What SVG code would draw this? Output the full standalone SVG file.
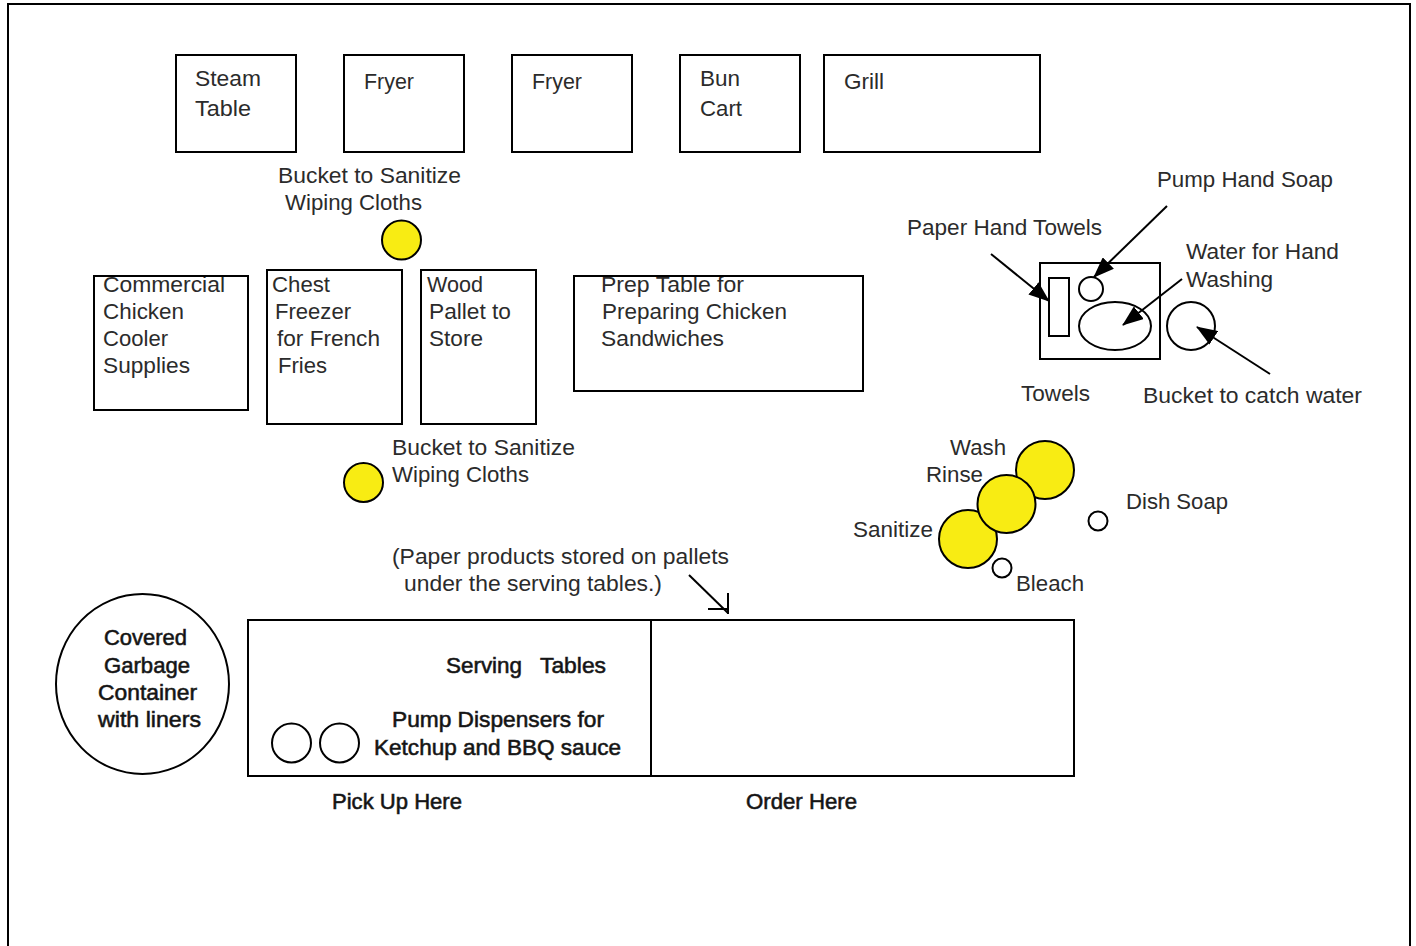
<svg xmlns="http://www.w3.org/2000/svg" width="1416" height="946" viewBox="0 0 1416 946">
<style>
text{font-family:"Liberation Sans",Arial,sans-serif;font-size:22.500px;fill:#2b2b2b}
.b{stroke:#222;stroke-width:.6px;fill:#111}
.s{fill:#fff;stroke:#000;stroke-width:2}
.y{fill:#f8ec13;stroke:#000;stroke-width:2}
.c line{stroke:#000;stroke-width:2}
</style>
<defs>
<marker id="a" markerUnits="userSpaceOnUse" markerWidth="22" markerHeight="16" refX="20" refY="8" orient="auto"><path d="M0 0L21 8L0 16z" fill="#000"/></marker>
<clipPath id="c1"><rect x="94" y="276" width="154" height="134"/></clipPath>
<clipPath id="c2"><rect x="574" y="276" width="289" height="115"/></clipPath>
</defs>
<rect width="1416" height="946" fill="#fff"/>
<path d="M8 946V4H1410V946" fill="none" stroke="#000" stroke-width="2"/>
<g id="steam"><rect class="s" x="176" y="55" width="120" height="97"/><text x="195" y="86" textLength="66" lengthAdjust="spacingAndGlyphs">Steam</text><text x="195" y="116" textLength="56" lengthAdjust="spacingAndGlyphs">Table</text></g>
<g id="fryer1"><rect class="s" x="344" y="55" width="120" height="97"/><text x="364" y="89" textLength="50" lengthAdjust="spacingAndGlyphs">Fryer</text></g>
<g id="fryer2"><rect class="s" x="512" y="55" width="120" height="97"/><text x="532" y="89" textLength="50" lengthAdjust="spacingAndGlyphs">Fryer</text></g>
<g id="bun"><rect class="s" x="680" y="55" width="120" height="97"/><text x="700" y="86" textLength="40" lengthAdjust="spacingAndGlyphs">Bun</text><text x="700" y="116" textLength="42" lengthAdjust="spacingAndGlyphs">Cart</text></g>
<g id="grill"><rect class="s" x="824" y="55" width="216" height="97"/><text x="844" y="89" textLength="40" lengthAdjust="spacingAndGlyphs">Grill</text></g>
<g id="bucket1"><text x="278" y="183" textLength="183" lengthAdjust="spacingAndGlyphs">Bucket to Sanitize</text><text x="285" y="210" textLength="137" lengthAdjust="spacingAndGlyphs">Wiping Cloths</text><circle class="y" cx="401.500" cy="240" r="19.500"/></g>
<g id="cooler"><rect class="s" x="94" y="276" width="154" height="134"/><g clip-path="url(#c1)"><text x="103" y="292" textLength="122" lengthAdjust="spacingAndGlyphs">Commercial</text></g><text x="103" y="319" textLength="81" lengthAdjust="spacingAndGlyphs">Chicken</text><text x="103" y="346" textLength="65" lengthAdjust="spacingAndGlyphs">Cooler</text><text x="103" y="373" textLength="87" lengthAdjust="spacingAndGlyphs">Supplies</text><path d="M94 276H248" stroke="#000" stroke-width="2"/></g>
<g id="freezer"><rect class="s" x="267" y="270" width="135" height="154"/><text x="272" y="292" textLength="58" lengthAdjust="spacingAndGlyphs">Chest</text><text x="275" y="319" textLength="76" lengthAdjust="spacingAndGlyphs">Freezer</text><text x="277" y="346" textLength="103" lengthAdjust="spacingAndGlyphs">for French</text><text x="278" y="373" textLength="49" lengthAdjust="spacingAndGlyphs">Fries</text></g>
<g id="pallet"><rect class="s" x="421" y="270" width="115" height="154"/><text x="427" y="292" textLength="56" lengthAdjust="spacingAndGlyphs">Wood</text><text x="429" y="319" textLength="82" lengthAdjust="spacingAndGlyphs">Pallet to</text><text x="429" y="346" textLength="54" lengthAdjust="spacingAndGlyphs">Store</text></g>
<g id="prep"><rect class="s" x="574" y="276" width="289" height="115"/><g clip-path="url(#c2)"><text x="601" y="292" textLength="143" lengthAdjust="spacingAndGlyphs">Prep Table for</text></g><text x="602" y="319" textLength="185" lengthAdjust="spacingAndGlyphs">Preparing Chicken</text><text x="601" y="346" textLength="123" lengthAdjust="spacingAndGlyphs">Sandwiches</text><path d="M574 276H863" stroke="#000" stroke-width="2"/></g>
<g id="handwash"><rect class="s" x="1040" y="263" width="120" height="96"/><rect class="s" x="1049" y="278" width="20" height="58"/><circle class="s" cx="1091" cy="289" r="12"/><ellipse class="s" cx="1115" cy="326" rx="36" ry="24"/></g>
<g id="bucketcatch"><circle class="s" cx="1191" cy="326" r="24"/></g>
<g id="labels-hw"><text x="1157" y="187" textLength="176" lengthAdjust="spacingAndGlyphs">Pump Hand Soap</text><text x="907" y="235" textLength="195" lengthAdjust="spacingAndGlyphs">Paper Hand Towels</text><text x="1186" y="259" textLength="153" lengthAdjust="spacingAndGlyphs">Water for Hand</text><text x="1186" y="287" textLength="87" lengthAdjust="spacingAndGlyphs">Washing</text><text x="1021" y="401" textLength="69" lengthAdjust="spacingAndGlyphs">Towels</text><text x="1143" y="403" textLength="219" lengthAdjust="spacingAndGlyphs">Bucket to catch water</text></g>
<g id="bucket2"><text x="392" y="455" textLength="183" lengthAdjust="spacingAndGlyphs">Bucket to Sanitize</text><text x="392" y="482" textLength="137" lengthAdjust="spacingAndGlyphs">Wiping Cloths</text><circle class="y" cx="363.500" cy="482.500" r="19.500"/></g>
<g id="sinks"><circle class="y" cx="1045" cy="470" r="29"/><circle class="y" cx="968" cy="539" r="29"/><circle class="y" cx="1006.500" cy="504" r="29"/><circle class="s" cx="1098" cy="521" r="9.500"/><circle class="s" cx="1002" cy="568" r="9.500"/><text x="950" y="455" textLength="56" lengthAdjust="spacingAndGlyphs">Wash</text><text x="926" y="482" textLength="57" lengthAdjust="spacingAndGlyphs">Rinse</text><text x="853" y="537" textLength="80" lengthAdjust="spacingAndGlyphs">Sanitize</text><text x="1126" y="509" textLength="102" lengthAdjust="spacingAndGlyphs">Dish Soap</text><text x="1016" y="591" textLength="68" lengthAdjust="spacingAndGlyphs">Bleach</text></g>
<g id="paper-note"><text x="392" y="564" textLength="337" lengthAdjust="spacingAndGlyphs">(Paper products stored on pallets</text><text x="404" y="591" textLength="258" lengthAdjust="spacingAndGlyphs">under the serving tables.)</text></g>
<g id="garbage"><ellipse class="s" cx="142.500" cy="684" rx="86.500" ry="90"/><text class="b" x="104" y="645" textLength="83" lengthAdjust="spacingAndGlyphs">Covered</text><text class="b" x="104" y="673" textLength="86" lengthAdjust="spacingAndGlyphs">Garbage</text><text class="b" x="98" y="700" textLength="99" lengthAdjust="spacingAndGlyphs">Container</text><text class="b" x="98" y="727" textLength="103" lengthAdjust="spacingAndGlyphs">with liners</text></g>
<g id="serving"><rect class="s" x="248" y="620" width="403" height="156"/><rect class="s" x="651" y="620" width="423" height="156"/><circle class="s" cx="291.500" cy="743" r="19.500"/><circle class="s" cx="339.500" cy="743" r="19.500"/><text class="b" x="446" y="673" textLength="76" lengthAdjust="spacingAndGlyphs">Serving</text><text class="b" x="540" y="673" textLength="66" lengthAdjust="spacingAndGlyphs">Tables</text><text class="b" x="392" y="727" textLength="212" lengthAdjust="spacingAndGlyphs">Pump Dispensers for</text><text class="b" x="374" y="755" textLength="247" lengthAdjust="spacingAndGlyphs">Ketchup and BBQ sauce</text><text class="b" x="332" y="809" textLength="130" lengthAdjust="spacingAndGlyphs">Pick Up Here</text><text class="b" x="746" y="809" textLength="111" lengthAdjust="spacingAndGlyphs">Order Here</text></g>
<g id="connectors" class="c">
<line x1="1167" y1="206" x2="1094" y2="277" marker-end="url(#a)"/>
<line x1="991" y1="254" x2="1049" y2="301" marker-end="url(#a)"/>
<line x1="1182" y1="279" x2="1123" y2="325" marker-end="url(#a)"/>
<line x1="1270" y1="374" x2="1197" y2="327" marker-end="url(#a)"/>
<line x1="689" y1="575" x2="728" y2="613"/>
<path d="M708 609H729M728 593V614" fill="none" stroke="#000" stroke-width="2"/>
</g>
</svg>
